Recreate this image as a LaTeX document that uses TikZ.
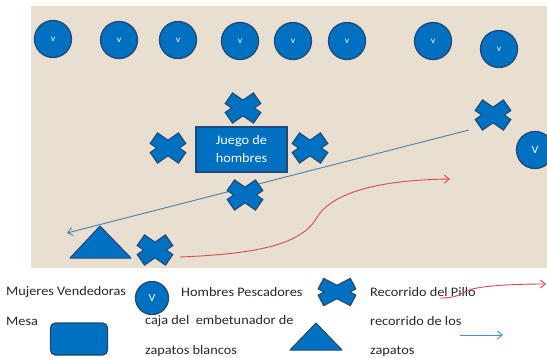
\documentclass[tikz,border=0pt]{standalone}
\usepackage{fontspec}
\setmainfont{Carlito}[FakeStretch=1.1]
\usetikzlibrary{arrows.meta}
\definecolor{bgbeige}{RGB}{233,223,208}
\definecolor{pblue}{RGB}{0,112,192}
\definecolor{pdark}{RGB}{32,72,120}
\definecolor{lblue}{RGB}{70,130,180}
\definecolor{lblue2}{RGB}{60,150,210}
\definecolor{pred}{RGB}{222,72,72}
\definecolor{txt}{RGB}{40,40,40}
\tikzset{
  vend/.style={circle, fill=pblue, draw=pdark, line width=1.3pt, minimum size=37pt, inner sep=0pt, text=white, font=\fontsize{9}{10}\selectfont},
  vendsmall/.style={vend, minimum size=33pt, font=\fontsize{11}{12}\selectfont},
  xmark/.style={minimum width=40pt, minimum height=34pt, inner sep=0pt,
    path picture={
      \draw[pdark, line width=14pt] ([shift={(-14.6,-10.1)}]path picture bounding box.center) -- ([shift={(14.6,10.1)}]path picture bounding box.center)
                                    ([shift={(-14.6,10.1)}]path picture bounding box.center) -- ([shift={(14.6,-10.1)}]path picture bounding box.center);
      \draw[pblue, line width=11.6pt] ([shift={(-13.5,-9.3)}]path picture bounding box.center) -- ([shift={(13.5,9.3)}]path picture bounding box.center)
                                    ([shift={(-13.5,9.3)}]path picture bounding box.center) -- ([shift={(13.5,-9.3)}]path picture bounding box.center);
    }},
  xmarkbig/.style={minimum width=44pt, minimum height=34pt, inner sep=0pt,
    path picture={
      \draw[pdark, line width=13pt] ([shift={(-16.6,-8.6)}]path picture bounding box.center) -- ([shift={(16.6,8.6)}]path picture bounding box.center)
                                    ([shift={(-16.6,8.6)}]path picture bounding box.center) -- ([shift={(16.6,-8.6)}]path picture bounding box.center);
      \draw[pblue, line width=10.6pt] ([shift={(-15.5,-8)}]path picture bounding box.center) -- ([shift={(15.5,8)}]path picture bounding box.center)
                                    ([shift={(-15.5,8)}]path picture bounding box.center) -- ([shift={(15.5,-8)}]path picture bounding box.center);
    }},
  mesa/.style={rectangle, fill=pblue, draw=pdark, line width=1.3pt, text=white, align=center, font=\fontsize{13}{18}\selectfont},
  caja/.style={fill=pblue, draw=pdark, line width=1pt, line join=round},
  lbl/.style={anchor=west, inner sep=0pt, text=txt, font=\fontsize{13}{15}\selectfont},
  shoes/.style={lblue, line width=0.9pt, -{Straight Barb[length=5pt,width=8pt]}},
  pillo/.style={pred, line width=0.9pt, -{Straight Barb[length=5pt,width=8pt]}},
}
\begin{document}
\begin{tikzpicture}[x=1pt,y=-1pt]
\useasboundingbox (0,0) rectangle (547,357);
\fill[white] (0,0) rectangle (547,357);
\fill[bgbeige] (31,6) rectangle (547,268);

% connectors (drawn under the marks)
\coordinate (bs) at (469,130);
\coordinate (be) at (67,233);
\draw[shoes] (bs) -- (be);
\coordinate (rs) at (180,257);
\coordinate (rm) at (316,219);
\coordinate (re) at (450,179);
\draw[pillo] (rs) .. controls (255,254) and (300,245) .. (rm) .. controls (331,192) and (380,180) .. (re);

% top row women
\node[vend] (v1) at (53,39) {v};
\node[vend] (v2) at (119,40) {v};
\node[vend] (v3) at (178,40) {v};
\node[vend] (v4) at (240,41) {v};
\node[vend] (v5) at (293,41) {v};
\node[vend] (v6) at (347,41) {v};
\node[vend] (v7) at (433,41) {v};
\node[vend] (v8) at (499,49) {v};
\node[vend, font=\fontsize{11}{12}\selectfont] (v9) at (535,150) {V};

% table
\node[mesa, minimum width=91pt, minimum height=45pt] (juego) at (241.5,149.5) {Juego de\\hombres};

% fishermen
\node[xmark] (x1) at (243,108) {};
\node[xmark] (x2) at (168,148) {};
\node[xmark] (x3) at (310,148) {};
\node[xmark] (x4) at (245,195) {};
\node[xmark] (x5) at (493,115) {};
\node[xmark] (x6) at (155,250) {};

% shoe box
\draw[caja] (100,226) -- (131,258) -- (70,258) -- cycle;

% legend
\node[lbl] (l1) at (6,292) {Mujeres Vendedoras};
\node[vendsmall] (lv) at (152,298) {V};
\node[lbl] (l2) at (181,292) {Hombres Pescadores};
\node[xmarkbig] (lx) at (337,292) {};
\node[lbl] (l3) at (370,292) {Recorrido del Pillo};
\coordinate (lrs) at (440,298);
\coordinate (lre) at (546,284);
\draw[pillo] (lrs) .. controls (460,298) and (462,292) .. (472,289) .. controls (490,285) and (520,284) .. (lre);

\node[lbl] (l4) at (6,321) {Mesa};
\node[rectangle, rounded corners=5pt, fill=pblue, draw=pdark, line width=1.3pt, minimum width=57pt, minimum height=32pt] (lmesa) at (79,339) {};
\node[lbl] (l5) at (145,321) {caja del\ \ embetunador de};
\node[lbl] (l6) at (145,351) {zapatos blancos};
\draw[caja] (316,323) -- (342,350) -- (290,350) -- cycle;
\node[lbl] (l7) at (370,321) {recorrido de los};
\node[lbl] (l8) at (370,351) {zapatos};
\coordinate (lbs) at (460,335);
\coordinate (lbe) at (503,335);
\draw[shoes, lblue2] (lbs) -- (lbe);
\end{tikzpicture}
\end{document}
